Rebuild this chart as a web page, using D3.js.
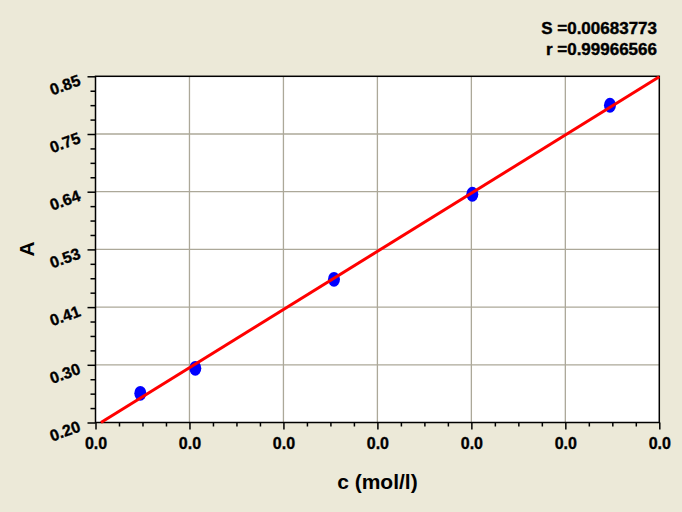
<!DOCTYPE html>
<html><head><meta charset="utf-8">
<script src="https://cdn.jsdelivr.net/npm/d3@7"></script>
<style>
html,body{margin:0;padding:0;background:#ECE9D8;}
svg{display:block;}
</style></head>
<body>
<script>
// ---- data ----
const concentrations = [0.0000477, 0.0001062, 0.0002538, 0.0004010, 0.0005475];
const absorbances   = [0.2548, 0.3018, 0.4689, 0.6285, 0.7956];
const fitC = [0.0000058, 0.0006];
const fitA = [0.2, 0.849];
const xTicks = [0, 0.0001, 0.0002, 0.0003, 0.0004, 0.0005, 0.0006];
const yTicks = [0.2, 0.308333, 0.416667, 0.525, 0.633333, 0.741667, 0.85];
const yTickLabels = ["0.20", "0.30", "0.41", "0.53", "0.64", "0.75", "0.85"];
const statLines = ["S =0.00683773", "r =0.99966566"];

const W = 682, H = 512;
const m = {left: 95.5, right: 659.3, top: 76.3, bottom: 422.5};
const svg = d3.select("body").append("svg").attr("width", W).attr("height", H);
svg.append("rect").attr("width", W).attr("height", H).attr("fill", "#ECE9D8");

const x = d3.scaleLinear().domain([0, 0.0006]).range([m.left, m.right]);
const y = d3.scaleLinear().domain([0.2, 0.85]).range([m.bottom, m.top]);

svg.append("rect").attr("x", m.left).attr("y", m.top)
  .attr("width", m.right - m.left).attr("height", m.bottom - m.top).attr("fill", "#fff");

// grid
const grid = svg.append("g").attr("stroke", "#aca899").attr("stroke-width", 1.3);
xTicks.slice(1, -1).forEach(t => grid.append("line")
  .attr("x1", x(t)).attr("x2", x(t)).attr("y1", m.top).attr("y2", m.bottom));
yTicks.slice(1, -1).forEach(t => grid.append("line")
  .attr("y1", y(t)).attr("y2", y(t)).attr("x1", m.left).attr("x2", m.right));

// minor ticks
const xMinor = [], yMinor = [];
for (let i = 0; i < xTicks.length - 1; i++) for (let k = 1; k < 4; k++)
  xMinor.push(xTicks[i] + (xTicks[i+1] - xTicks[i]) * k / 4);
for (let i = 0; i < yTicks.length - 1; i++) for (let k = 1; k < 4; k++)
  yMinor.push(yTicks[i] + (yTicks[i+1] - yTicks[i]) * k / 4);

const font = "'Liberation Sans', Arial, sans-serif";

const xAxis = svg.append("g").attr("transform", `translate(0,${m.bottom})`)
  .call(d3.axisBottom(x).tickValues(xTicks).tickSize(7).tickPadding(8.5)
    .tickFormat(d3.format(".1f")));
xAxis.select(".domain").remove();
xAxis.selectAll("line").attr("stroke", "#000").attr("stroke-width", 1.5);
xAxis.selectAll("text").attr("font-family", font).attr("font-weight", "bold")
  .attr("font-size", 16).attr("fill", "#000")
  .attr("stroke", "#000").attr("stroke-width", 0.35);
const xAxisMinor = svg.append("g").attr("transform", `translate(0,${m.bottom})`)
  .call(d3.axisBottom(x).tickValues(xMinor).tickSize(4).tickFormat(""));
xAxisMinor.select(".domain").remove();
xAxisMinor.selectAll("line").attr("stroke", "#000").attr("stroke-width", 1.5);

const yAxis = svg.append("g").attr("transform", `translate(${m.left},0)`)
  .call(d3.axisLeft(y).tickValues(yTicks).tickSize(8)
    .tickFormat((d, i) => yTickLabels[i]));
yAxis.select(".domain").remove();
yAxis.selectAll("line").attr("stroke", "#000").attr("stroke-width", 1.5);
yAxis.selectAll("text").attr("font-family", font).attr("font-weight", "bold")
  .attr("font-size", 16).attr("fill", "#000").attr("text-anchor", "end")
  .attr("stroke", "#000").attr("stroke-width", 0.35)
  .attr("x", 0).attr("dy", 0)
  .attr("transform", "translate(-14,8) rotate(-20)");
const yAxisMinor = svg.append("g").attr("transform", `translate(${m.left},0)`)
  .call(d3.axisLeft(y).tickValues(yMinor).tickSize(5).tickFormat(""));
yAxisMinor.select(".domain").remove();
yAxisMinor.selectAll("line").attr("stroke", "#000").attr("stroke-width", 1.5);

// frame
svg.append("rect").attr("x", m.left).attr("y", m.top)
  .attr("width", m.right - m.left).attr("height", m.bottom - m.top)
  .attr("fill", "none").attr("stroke", "#000").attr("stroke-width", 1.5);

// points
svg.append("g").selectAll("ellipse").data(concentrations).join("ellipse")
  .attr("cx", d => x(d)).attr("cy", (d, i) => y(absorbances[i]))
  .attr("rx", 6).attr("ry", 7.4).attr("fill", "#0000ff");

// fit line
const line = d3.line().x(d => x(d[0])).y(d => y(d[1]));
svg.append("path").datum(fitC.map((c, i) => [c, fitA[i]]))
  .attr("d", line).attr("stroke", "#ff0000").attr("stroke-width", 3)
  .attr("fill", "none");

// titles
svg.append("text").attr("x", (m.left + m.right) / 2).attr("y", 489)
  .attr("text-anchor", "middle").attr("font-family", font)
  .attr("font-weight", "bold").attr("font-size", 21).text("c (mol/l)");
svg.append("text").attr("transform", "translate(34,249) rotate(-90)")
  .attr("text-anchor", "middle").attr("font-family", font)
  .attr("font-weight", "bold").attr("font-size", 21).text("A");

// stats
svg.append("g").selectAll("text").data(statLines).join("text")
  .attr("x", 657).attr("y", (d, i) => 34 + i * 20.5)
  .attr("text-anchor", "end").attr("font-family", font).attr("font-weight", "bold")
  .attr("stroke", "#000").attr("stroke-width", 0.4)
  .attr("font-size", 17).text(d => d);
</script>
</body></html>
